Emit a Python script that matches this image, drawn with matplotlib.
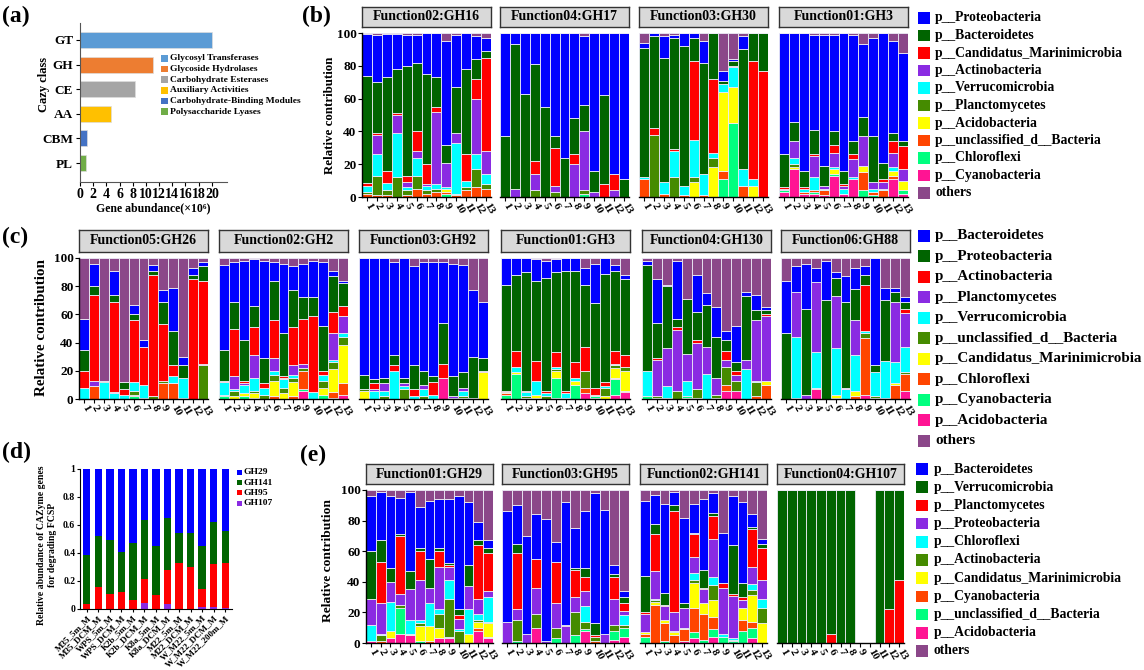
import numpy as np
import matplotlib
matplotlib.use('Agg')
import matplotlib.pyplot as plt
from matplotlib.patches import Rectangle

plt.rcParams['font.family'] = ['Liberation Serif', 'DejaVu Serif']
plt.rcParams['font.weight'] = 'bold'
plt.rcParams['axes.labelweight'] = 'bold'

W, H = 1144, 670

# ---------------- panel (a) ----------------
cazy_class = ['GT', 'GH', 'CE', 'AA', 'CBM', 'PL']
cazy_names = ['Glycosyl Transferases', 'Glycoside Hydrolases', 'Carbohydrate Esterases',
              'Auxiliary Activities', 'Carbohydrate-Binding Modules', 'Polysaccharide Lyases']
cazy_abund = [20.1, 11.1, 8.3, 4.65, 1.1, 0.87]
cazy_colors = ['#5B9BD5', '#ED7D31', '#A5A5A5', '#FFC000', '#4472C4', '#70AD47']

# ---------------- panel (d) ----------------
d_samples = ['M35_5m_M', 'M35_DCM_M', 'WPS_5m_M', 'WPS_DCM_M', 'K2b_5m_M', 'K2b_DCM_M',
             'K8a_5m_M', 'K8a_DCM_M', 'M22_5m_M', 'M22_DCM_M', 'W_M22_5m_M',
             'W_M22_DCM_M', 'W_M22_200m_M']
d_GH107 = [0, 0, 0, 0, 0, 0.043, 0, 0.033, 0, 0, 0.012, 0.014, 0.007]
d_GH95 = [0.036, 0.154, 0.11, 0.12, 0.067, 0.171, 0.10, 0.247, 0.33, 0.30, 0.131, 0.309, 0.32]
d_GH141 = [0.351, 0.366, 0.38, 0.29, 0.403, 0.42, 0.35, 0.373, 0.21, 0.246, 0.307, 0.302, 0.233]
d_GH29 = [0.613, 0.48, 0.51, 0.59, 0.53, 0.366, 0.55, 0.347, 0.46, 0.454, 0.55, 0.375, 0.44]
d_names = ['GH29', 'GH141', 'GH95', 'GH107']
d_colors = ['#0000FF', '#006400', '#FF0000', '#8A2BE2']

# ---------------- stacked facets (b, c, e) ----------------
# legend order colours: 10 phyla + others
phy_colors = ['#0000FF', '#006400', '#FF0000', '#8A2BE2', '#00FFFF', '#458B00',
              '#FFFF00', '#FF4500', '#00FF7F', '#FF1493', '#8B4789']
# stacking from bottom to top (index into legend order)
stack_idx = [9, 8, 7, 6, 5, 4, 3, 2, 1, 0, 10]
bar_labels = [str(i) for i in range(1, 14)]

b_legend = ['p__Proteobacteria', 'p__Bacteroidetes', 'p__Candidatus_Marinimicrobia',
            'p__Actinobacteria', 'p__Verrucomicrobia', 'p__Planctomycetes',
            'p__Acidobacteria', 'p__unclassified_d__Bacteria', 'p__Chloroflexi',
            'p__Cyanobacteria', 'others']
c_legend = ['p__Bacteroidetes', 'p__Proteobacteria', 'p__Actinobacteria',
            'p__Planctomycetes', 'p__Verrucomicrobia', 'p__unclassified_d__Bacteria',
            'p__Candidatus_Marinimicrobia', 'p__Chloroflexi', 'p__Cyanobacteria',
            'p__Acidobacteria', 'others']
e_legend = ['p__Bacteroidetes', 'p__Verrucomicrobia', 'p__Planctomycetes',
            'p__Proteobacteria', 'p__Chloroflexi', 'p__Actinobacteria',
            'p__Candidatus_Marinimicrobia', 'p__Cyanobacteria',
            'p__unclassified_d__Bacteria', 'p__Acidobacteria', 'others']

b_titles = ['Function02:GH16', 'Function04:GH17', 'Function03:GH30', 'Function01:GH3']
c_titles = ['Function05:GH26', 'Function02:GH2', 'Function03:GH92', 'Function01:GH3',
            'Function04:GH130', 'Function06:GH88']
e_titles = ['Function01:GH29', 'Function03:GH95', 'Function02:GH141', 'Function04:GH107']

# each row = one bar, values bottom -> top following stack_idx
b_GH16 = [[0, 0, 2, 0, 1, 3.5, 0, 2, 65, 26, 0.5],
          [0, 0, 1, 0, 12, 13, 12, 1, 31, 29, 1],
          [0, 0, 1, 0, 3, 4.5, 0, 7.5, 57, 26.5, 0.5],
          [0, 0, 0, 0, 12, 27, 11, 1, 27, 21.5, 0.5],
          [0, 0, 1, 0, 3, 2, 3, 4, 67, 19, 1],
          [0, 0, 5, 0, 8, 11, 4, 12, 42, 17, 1],
          [0, 0, 2, 0, 2, 3, 1, 12, 55, 25, 0],
          [0, 0, 3, 0, 2, 3, 44, 3, 18, 27, 0],
          [0, 2, 1, 2, 0, 1, 15, 0, 11, 63, 5],
          [0, 0, 1, 0, 1, 31, 6, 0, 28, 32, 1],
          [0, 0, 4, 0, 2, 4, 0, 16, 52, 22, 0],
          [0, 0, 6, 0, 11, 9, 34, 12, 12, 14, 2],
          [0, 0, 5, 0, 3, 6, 14, 57, 4, 8, 3]]
b_GH17 = [[0, 0, 0, 0, 0, 0, 0, 0, 37, 63, 0],
          [0, 0, 0, 0, 0, 0, 5, 0, 88, 7, 0],
          [0, 0, 0, 0, 0, 0, 0, 0, 63, 37, 0],
          [0, 0, 0, 0, 4, 0, 10, 8, 59, 19, 0],
          [0, 0, 0, 0, 0, 0, 0, 0, 55, 45, 0],
          [0, 0, 0, 0, 3, 0, 4, 23, 7, 63, 0],
          [0, 0, 0, 0, 0, 0, 0, 0, 24, 76, 0],
          [0, 0, 0, 0, 0, 0, 20, 6, 22, 52, 0],
          [0, 2, 0, 0, 2, 0, 36, 0, 16, 42, 2],
          [0, 0, 0, 0, 0, 0, 3, 0, 13, 84, 0],
          [0, 0, 0, 0, 0, 0, 0, 8, 54, 38, 0],
          [0, 0, 0, 0, 0, 0, 4, 10, 0, 86, 0],
          [0, 0, 0, 0, 0, 0, 0, 0, 11, 89, 0]]
b_GH30 = [[0, 0, 11, 0, 0, 1, 0, 0, 79, 3, 6],
          [0, 0, 0, 0, 38, 0, 0, 4, 56, 2, 0],
          [0, 0, 2, 0, 0, 7, 0, 0, 76, 13, 2],
          [0, 0, 0, 0, 12, 16, 0, 1, 68, 2, 1],
          [0, 0, 1, 0, 0, 6, 0, 0, 85, 8, 0],
          [0, 0, 0, 9, 3, 23, 0, 48, 14, 3, 0],
          [0, 0, 1, 0, 0, 13, 0, 0, 68, 13, 5],
          [0, 0, 0, 18, 6, 3, 0, 45, 28, 0, 0],
          [0, 11, 5, 48, 0, 5, 0, 0, 2, 6, 23],
          [0, 45, 0, 22, 0, 12, 1, 0, 3, 1, 16],
          [0, 0, 7, 0, 0, 10, 0, 0, 73, 8, 2],
          [0, 0, 0, 7, 0, 4, 0, 72, 17, 0, 0],
          [0, 0, 0, 0, 0, 0, 0, 77, 23, 0, 0]]
b_GH3 = [[3, 1, 0, 0, 0, 0, 1, 1, 20, 74, 0],
         [17, 0, 0, 1, 2, 4, 10, 0, 12, 54, 0],
         [2, 0, 1, 0, 0, 2, 0, 1, 10, 84, 0],
         [2, 1, 1, 0, 0, 8, 13, 1, 15, 58, 1],
         [1, 0, 3, 0, 0, 1, 2, 0, 12, 80, 1],
         [13, 1, 0, 3, 0, 1, 9, 5, 8, 59, 1],
         [2, 0, 0, 0, 0, 3, 2, 1, 8, 84, 0],
         [11, 0, 0, 0, 0, 1, 11, 3, 8, 65, 1],
         [0, 4, 11, 4, 0, 0, 18, 0, 12, 44, 7],
         [0, 1, 2, 0, 0, 2, 4, 0, 28, 60, 3],
         [0, 0, 4, 0, 0, 1, 4, 2, 10, 79, 0],
         [11, 0, 2, 3, 0, 2, 9, 7, 5, 56, 5],
         [2, 2, 0, 6, 0, 0, 7, 14, 3, 54, 12]]

c_GH26 = [[0, 0, 0, 0, 0, 8, 0, 12, 15, 22, 43],
          [0, 0, 9, 0, 0, 0, 4, 61, 6, 16, 4],
          [0, 0, 0, 0, 0, 12, 0, 0, 1, 0, 87],
          [0, 0, 0, 0, 0, 4, 1, 64, 5, 17, 9],
          [0, 0, 0, 0, 0, 3, 0, 4, 5, 0, 88],
          [0, 2, 1, 0, 3, 6, 0, 44, 4, 7, 33],
          [0, 0, 0, 0, 1, 9, 0, 27, 0, 5, 58],
          [0, 0, 0, 0, 2, 0, 0, 86, 3, 4, 5],
          [0, 0, 11, 0, 2, 0, 0, 40, 16, 8, 23],
          [0, 0, 11, 0, 0, 5, 0, 8, 24, 31, 21],
          [0, 0, 0, 0, 1, 14, 0, 0, 9, 6, 70],
          [0, 0, 0, 0, 0, 0, 0, 85, 3, 5, 7],
          [0, 0, 0, 0, 24, 0, 1, 59, 10, 3, 3]]
c_GH2 = [[0, 2, 0, 0, 1, 9, 0, 1, 22, 60, 5],
         [0, 0, 0, 2, 4, 1, 9, 34, 19, 28, 3],
         [0, 2, 0, 2, 0, 6, 1, 2, 29, 56, 2],
         [1, 0, 0, 3, 2, 9, 16, 20, 15, 33, 1],
         [0, 0, 0, 0, 3, 5, 0, 3, 18, 69, 2],
         [0, 0, 2, 11, 4, 3, 9, 27, 28, 13, 3],
         [0, 0, 0, 4, 4, 6, 1, 1, 31, 49, 4],
         [0, 0, 2, 10, 3, 2, 7, 27, 26, 17, 6],
         [6, 1, 13, 0, 2, 0, 3, 32, 15, 24, 4],
         [0, 0, 0, 0, 0, 5, 0, 54, 13, 26, 2],
         [0, 3, 0, 5, 5, 4, 0, 3, 32, 45, 3],
         [1, 0, 4, 16, 5, 2, 19, 15, 25, 4, 9],
         [3, 0, 8, 27, 6, 3, 12, 7, 16, 2, 16]]
c_GH92 = [[0, 0, 0, 6, 1, 0, 0, 0, 10, 83, 0],
          [0, 0, 0, 0, 0, 6, 1, 4, 3, 86, 0],
          [0, 0, 0, 0, 2, 4, 5, 0, 4, 85, 0],
          [0, 0, 0, 0, 0, 20, 0, 4, 7, 66, 3],
          [0, 0, 0, 0, 7, 2, 2, 0, 4, 85, 0],
          [0, 0, 0, 0, 0, 2, 0, 5, 17, 70, 6],
          [0, 0, 0, 0, 2, 5, 3, 0, 10, 77, 3],
          [0, 0, 0, 0, 0, 3, 0, 9, 4, 81, 3],
          [15, 0, 0, 0, 0, 0, 0, 10, 29, 43, 3],
          [0, 0, 0, 0, 0, 1, 1, 0, 14, 80, 4],
          [0, 0, 0, 1, 1, 4, 2, 0, 11, 76, 5],
          [0, 0, 0, 0, 0, 1, 0, 0, 29, 47, 23],
          [0, 0, 0, 19, 0, 0, 0, 1, 9, 40, 31]]
c_GH3 = [[0, 3, 1, 1, 0, 0, 0, 1, 75, 19, 0],
         [0, 18, 0, 1, 0, 4, 0, 11, 54, 12, 0],
         [0, 0, 0, 1, 1, 3, 0, 1, 84, 10, 0],
         [0, 1, 0, 2, 0, 10, 0, 14, 57, 15, 1],
         [0, 0, 0, 0, 2, 2, 0, 2, 80, 12, 2],
         [1, 14, 0, 5, 1, 2, 0, 10, 57, 9, 1],
         [0, 0, 0, 1, 0, 3, 0, 2, 85, 9, 0],
         [0, 10, 0, 3, 0, 2, 0, 11, 65, 9, 0],
         [4, 0, 4, 0, 12, 0, 0, 17, 44, 12, 7],
         [1, 1, 0, 0, 0, 1, 0, 5, 60, 28, 4],
         [0, 0, 0, 2, 6, 1, 0, 3, 77, 11, 0],
         [3, 11, 1, 7, 2, 1, 0, 9, 57, 4, 5],
         [5, 0, 1, 14, 3, 0, 0, 8, 54, 3, 12]]
c_GH130 = [[0, 2, 0, 0, 0, 18, 0, 0, 75, 3, 2],
           [0, 0, 0, 1, 1, 0, 26, 1, 25, 31, 15],
           [0, 1, 0, 0, 0, 8, 27, 0, 44, 1, 19],
           [0, 0, 0, 0, 6, 0, 43, 2, 6, 41, 2],
           [1, 1, 0, 0, 0, 11, 19, 0, 39, 0, 29],
           [0, 0, 1, 0, 6, 0, 33, 2, 20, 26, 12],
           [0, 0, 0, 0, 0, 18, 19, 0, 30, 8, 25],
           [0, 0, 1, 0, 2, 0, 12, 0, 29, 21, 35],
           [6, 0, 4, 0, 13, 0, 5, 6, 8, 6, 52],
           [6, 0, 0, 0, 7, 0, 4, 3, 6, 26, 48],
           [0, 0, 0, 0, 0, 21, 7, 0, 45, 3, 24],
           [0, 0, 2, 0, 10, 1, 43, 0, 7, 11, 26],
           [0, 0, 10, 3, 0, 0, 46, 1, 3, 2, 35]]
c_GH88 = [[0, 0, 0, 0, 0, 0, 0, 0, 47, 37, 16],
          [0, 0, 0, 1, 0, 43, 32, 0, 0, 18, 6],
          [0, 0, 0, 0, 0, 0, 3, 0, 61, 32, 4],
          [7, 0, 1, 0, 0, 25, 50, 0, 0, 10, 7],
          [0, 0, 0, 0, 0, 0, 0, 0, 70, 28, 2],
          [0, 0, 1, 2, 0, 33, 37, 0, 13, 4, 10],
          [0, 0, 0, 0, 0, 7, 1, 0, 61, 18, 13],
          [0, 0, 2, 4, 0, 25, 25, 0, 22, 15, 7],
          [3, 0, 40, 0, 4, 1, 0, 33, 7, 6, 6],
          [0, 0, 1, 0, 1, 17, 0, 0, 5, 76, 0],
          [0, 0, 0, 1, 0, 26, 0, 0, 43, 9, 21],
          [0, 0, 10, 1, 0, 15, 43, 0, 7, 3, 21],
          [6, 0, 12, 0, 1, 18, 24, 3, 5, 3, 28]]

e_GH29 = [[1, 0, 0, 0, 0, 11, 17, 0, 31, 36, 4],
          [0, 0, 1, 0, 4, 1, 20, 27, 14, 32, 1],
          [3, 0, 0, 5, 0, 19, 13, 0, 9, 47, 4],
          [6, 17, 0, 0, 2, 0, 7, 38, 1, 24, 5],
          [5, 0, 0, 1, 0, 9, 20, 0, 12, 52, 1],
          [0, 1, 0, 10, 2, 2, 26, 19, 2, 27, 11],
          [0, 0, 1, 10, 0, 15, 10, 0, 19, 38, 7],
          [3, 0, 0, 7, 9, 3, 28, 10, 2, 32, 6],
          [3, 1, 0, 0, 25, 12, 9, 1, 1, 42, 6],
          [0, 0, 0, 0, 8, 1, 7, 2, 4, 74, 4],
          [0, 0, 0, 6, 0, 16, 15, 0, 14, 41, 8],
          [8, 0, 2, 4, 1, 4, 10, 35, 3, 12, 21],
          [3, 1, 0, 9, 1, 16, 4, 25, 3, 5, 33]]
e_GH95 = [[0, 0, 0, 0, 0, 0, 14, 0, 0, 72, 14],
          [0, 1, 0, 0, 14, 0, 7, 37, 6, 25, 10],
          [0, 0, 0, 0, 0, 0, 6, 0, 0, 64, 30],
          [10, 0, 0, 0, 9, 0, 17, 19, 0, 29, 16],
          [0, 0, 0, 0, 0, 0, 1, 0, 0, 80, 19],
          [0, 3, 0, 0, 7, 0, 16, 27, 0, 13, 34],
          [0, 0, 0, 0, 0, 0, 11, 1, 0, 80, 8],
          [0, 5, 0, 0, 15, 0, 10, 18, 1, 26, 25],
          [8, 1, 0, 0, 5, 10, 10, 9, 6, 37, 14],
          [0, 0, 1, 0, 3, 0, 0, 1, 8, 85, 2],
          [0, 0, 0, 0, 0, 0, 6, 0, 0, 81, 13],
          [2, 6, 0, 0, 4, 0, 17, 14, 2, 6, 49],
          [4, 6, 0, 0, 2, 6, 3, 5, 4, 4, 66]]
e_GH141 = [[0, 4, 2, 1, 0, 0, 12, 1, 24, 49, 7],
           [0, 0, 25, 2, 1, 1, 18, 24, 7, 19, 3],
           [0, 1, 12, 2, 0, 0, 9, 1, 8, 58, 9],
           [0, 0, 5, 2, 1, 0, 12, 66, 4, 9, 1],
           [1, 0, 8, 1, 0, 0, 13, 0, 3, 56, 18],
           [3, 4, 16, 16, 2, 5, 10, 15, 1, 19, 9],
           [0, 2, 17, 7, 0, 0, 9, 1, 12, 46, 6],
           [4, 5, 8, 11, 10, 5, 25, 15, 2, 13, 2],
           [0, 4, 0, 0, 0, 2, 30, 3, 0, 33, 28],
           [0, 1, 0, 0, 1, 1, 28, 1, 32, 32, 4],
           [0, 8, 7, 8, 0, 0, 5, 2, 9, 53, 8],
           [3, 6.5, 4, 18, 3, 4, 11, 25, 1, 9, 15.5],
           [0, 0, 0, 13, 10, 6, 12, 21, 3, 3, 32]]
e_GH107 = [[0, 0, 0, 0, 0, 0, 0, 0, 100, 0, 0],
           [0, 0, 0, 0, 0, 0, 0, 0, 100, 0, 0],
           [0, 0, 0, 0, 0, 0, 0, 0, 100, 0, 0],
           [0, 0, 0, 0, 0, 0, 0, 0, 100, 0, 0],
           [0, 0, 0, 0, 0, 0, 0, 0, 100, 0, 0],
           [0, 0, 0, 0, 0, 0, 0, 6, 94, 0, 0],
           [0, 0, 0, 0, 0, 0, 0, 0, 100, 0, 0],
           [0, 0, 0, 0, 0, 0, 0, 0, 100, 0, 0],
           [0, 0, 0, 0, 0, 0, 0, 0, 0, 0, 0],
           [0, 0, 0, 0, 0, 0, 0, 0, 0, 0, 0],
           [0, 0, 0, 0, 0, 0, 0, 0, 100, 0, 0],
           [0, 0, 0, 0, 0, 0, 0, 22, 78, 0, 0],
           [0, 0, 0, 0, 0, 0, 0, 41, 59, 0, 0]]

fig = plt.figure(figsize=(W / 100, H / 100), dpi=100)


def px_box(x0, y0, x1, y1):
    # pixel box (top-left origin) -> figure fraction rect
    return [x0 / W, 1 - y1 / H, (x1 - x0) / W, (y1 - y0) / H]


def ftext(x, y, s, **kw):
    fig.text(x / W, 1 - y / H, s, **kw)


def legend_block(x_sq, y0, step, sq, labels, colors, size, x_txt):
    for k, (lab, col) in enumerate(zip(labels, colors)):
        yc = y0 + k * step
        fig.add_artist(Rectangle((x_sq / W, 1 - (yc + sq / 2) / H), sq / W, sq / H,
                                 transform=fig.transFigure, facecolor=col,
                                 edgecolor='none'))
        ftext(x_txt, yc, lab, fontsize=size, ha='left', va='center')


def facets(lefts, width, top, bottom, s_top, s_bot, titles, tables, tick_size=8):
    stack_colors = [phy_colors[i] for i in stack_idx]
    xs = np.arange(1, 14)
    for n, (x0, title, table) in enumerate(zip(lefts, titles, tables)):
        ax = fig.add_axes(px_box(x0, top, x0 + width, bottom))
        vals = np.array(table, dtype=float)
        base = np.zeros(len(xs))
        for j in range(vals.shape[1]):
            ax.bar(xs, vals[:, j], bottom=base, width=1.0, color=stack_colors[j],
                   edgecolor='#ECECF6', linewidth=0.6)
            base += vals[:, j]
        ax.set_xlim(0.5, 13.5)
        ax.set_ylim(0, 100)
        for s in ['top', 'right']:
            ax.spines[s].set_visible(False)
        ax.spines['bottom'].set_linewidth(1.0)
        ax.set_xticks(xs)
        ax.set_xticklabels(bar_labels, rotation=-60, rotation_mode='anchor',
                           ha='left', va='center', fontsize=tick_size)
        ax.tick_params(axis='x', length=3, width=0.8, pad=2)
        if n == 0:
            ax.set_yticks([0, 20, 40, 60, 80, 100])
            ax.tick_params(axis='y', labelsize=9.5, length=3, width=0.8, pad=1)
            ax.spines['left'].set_linewidth(1.0)
        else:
            ax.spines['left'].set_visible(False)
            ax.set_yticks([])
        sax = fig.add_axes(px_box(x0, s_top, x0 + width, s_bot))
        sax.set_facecolor('#D9D9D9')
        sax.set_xticks([])
        sax.set_yticks([])
        for s in sax.spines.values():
            s.set_color('#333333')
            s.set_linewidth(1.0)
        sax.text(0.5, 0.5, title, transform=sax.transAxes, ha='center', va='center',
                 fontsize=10)


# ---- (a) ----
ax_a = fig.add_axes(px_box(80, 23, 227, 182))
ypos = np.arange(len(cazy_class))[::-1]
ax_a.barh(ypos, cazy_abund, height=0.65, color=cazy_colors, edgecolor='#DDDDDD', linewidth=0.5)
ax_a.set_yticks(ypos)
ax_a.set_yticklabels(cazy_class, fontsize=9.5)
ax_a.set_xlim(0, 22.3)
ax_a.set_ylim(-0.77, 5.69)
ax_a.set_xticks(np.arange(0, 21, 2))
ax_a.tick_params(axis='x', labelsize=10, length=3, pad=1)
ax_a.tick_params(axis='y', length=3, pad=2)
for s in ['top', 'right']:
    ax_a.spines[s].set_visible(False)
for s in ['left', 'bottom']:
    ax_a.spines[s].set_color('#555555')
ax_a.set_xlabel('Gene abundance(×10⁶)', fontsize=8.5, labelpad=1)
ftext(44, 85, 'Cazy class', fontsize=9, rotation=90, ha='center', va='center')
legend_block(161, 58.5, 10.6, 6.5, cazy_names, cazy_colors, 6.8, 170)

# ---- (b) ----
facets([362, 500, 639, 779], 129, 33, 197, 7, 27, b_titles,
       [b_GH16, b_GH17, b_GH30, b_GH3])
ftext(330, 115, 'Relative contribution', fontsize=9.3, rotation=90, ha='center', va='center')
legend_block(918, 18, 17.5, 11.5, b_legend, phy_colors, 9.8, 935)

# ---- (c) ----
facets([79, 219, 359, 501, 642, 781], 129, 258, 399, 230, 252, c_titles,
       [c_GH26, c_GH2, c_GH92, c_GH3, c_GH130, c_GH88])
ftext(42, 327, 'Relative contribution', fontsize=10.9, rotation=90, ha='center', va='center')
legend_block(918, 235.7, 20.5, 12, c_legend, phy_colors, 10.8, 935)

# ---- (d) ----
ax_d = fig.add_axes(px_box(80, 469, 232, 609))
xd = np.arange(len(d_samples))
base = np.zeros(len(xd))
for vals, col in zip([d_GH107, d_GH95, d_GH141, d_GH29], d_colors[::-1]):
    ax_d.bar(xd, vals, bottom=base, width=0.62, color=col)
    base += np.array(vals)
ax_d.set_xlim(-0.6, len(xd) - 0.4)
ax_d.set_ylim(0, 1)
ax_d.set_yticks([0, 0.2, 0.4, 0.6, 0.8, 1])
ax_d.set_yticklabels(['0', '0.2', '0.4', '0.6', '0.8', '1'])
ax_d.tick_params(axis='y', labelsize=7, length=2.5, pad=1)
ax_d.set_xticks(xd)
ax_d.set_xticklabels(d_samples, rotation=45, ha='right', rotation_mode='anchor', fontsize=6.5)
ax_d.tick_params(axis='x', length=2.5, pad=1)
for s in ['top', 'right']:
    ax_d.spines[s].set_visible(False)
ftext(47, 545, 'Relative abundance of CAZyme genes\nfor degrading FCSP', fontsize=7,
      rotation=90, ha='center', va='center', linespacing=1.3)
legend_block(237, 472.3, 10.3, 5, d_names, d_colors, 6.8, 243)

# ---- (e) ----
facets([366, 502, 640, 777], 127, 490, 643, 464, 484, e_titles,
       [e_GH29, e_GH95, e_GH141, e_GH107])
ftext(328, 560, 'Relative contribution', fontsize=9.7, rotation=90, ha='center', va='center')
legend_block(916, 469, 18.2, 11.5, e_legend, phy_colors, 9.8, 934)

# panel letters
for lab, x, y in [('(a)', 2, 16), ('(b)', 302, 16), ('(c)', 2, 237),
                  ('(d)', 2, 452), ('(e)', 300, 455)]:
    ftext(x, y, lab, fontsize=17, ha='left', va='center')

fig.savefig('out.png', dpi=100)
